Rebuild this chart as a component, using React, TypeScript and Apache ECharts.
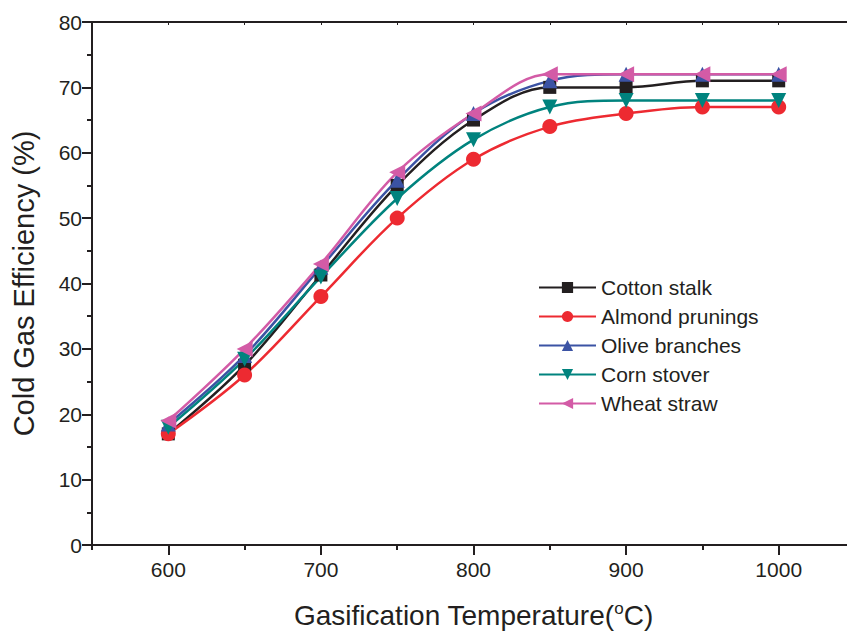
import React, { useEffect, useRef } from "react";
import * as echarts from "echarts";

const temperatures = [600, 650, 700, 750, 800, 850, 900, 950, 1000];
const cottonStalk = [17, 27.5, 41.3, 55, 65, 70, 70, 71, 71];
const almondPrunings = [17, 26, 38, 50, 59, 64, 66, 67, 67];
const oliveBranches = [18.5, 29, 42.5, 55.8, 66, 71, 72, 72, 72];
const cornStover = [18, 28.4, 41, 53, 62, 67, 68, 68, 68];
const wheatStraw = [19, 30, 43, 57, 66, 72, 72, 72, 72];

const xMajorTicks = [600, 700, 800, 900, 1000];
const xMinorTicks = [550, 650, 750, 850, 950, 1050];
const xTopTicks = [600, 650, 700, 750, 800, 850, 900, 950, 1000];

const seriesNames = ["Cotton stalk", "Almond prunings", "Olive branches", "Corn stover", "Wheat straw"];

const FONT = "Liberation Sans, Arial, sans-serif";
const AXIS_COLOR = "#231f20";

export default function App() {
  const ref = useRef<HTMLDivElement>(null);

  useEffect(() => {
    if (!ref.current) return;
    const chart = echarts.init(ref.current, null, { renderer: "svg" });

    const mk = (name: string, values: number[], color: string, symbol: string, size: number, rotate: number) => ({
      name,
      type: "line",
      xAxisIndex: 0,
      yAxisIndex: 0,
      data: temperatures.map((t, i) => [t, values[i]]),
      smooth: 0.35,
      symbol,
      symbolSize: size,
      symbolRotate: rotate,
      lineStyle: { color, width: 2.5 },
      itemStyle: { color, borderWidth: 0 },
      z: 3,
    });

    const axisLine = { show: true, lineStyle: { color: AXIS_COLOR, width: 2 } };

    chart.setOption({
      animation: false,
      backgroundColor: "#ffffff",
      textStyle: { fontFamily: FONT },
      grid: { left: 92, top: 22, right: -8, bottom: 87, containLabel: false, outerBoundsMode: "none" },
      legend: {
        data: seriesNames,
        orient: "vertical",
        left: 533,
        top: 272,
        itemWidth: 57,
        itemHeight: 14,
        itemGap: 8,
        textStyle: { fontSize: 21, color: AXIS_COLOR, fontFamily: FONT },
      },
      xAxis: [
        {
          type: "value",
          min: 550,
          max: 1050,
          interval: 50,
          position: "bottom",
          axisLine,
          axisTick: { show: true, length: 10, inside: false, customValues: xMajorTicks, lineStyle: { color: AXIS_COLOR, width: 2 } },
          axisLabel: {
            show: true,
            customValues: xMajorTicks,
            fontSize: 21,
            color: AXIS_COLOR,
            margin: 14,
            fontFamily: FONT,
            formatter: (v: number) => String(v),
          },
          splitLine: { show: false },
          name: "Gasification Temperature({sup|o}C)",
          nameLocation: "middle",
          nameGap: 55,
          nameTextStyle: {
            fontSize: 28,
            color: AXIS_COLOR,
            fontFamily: FONT,
            lineHeight: 30,
            rich: {
              sup: { fontSize: 17, verticalAlign: "top", lineHeight: 17, color: AXIS_COLOR, fontFamily: FONT, padding: [0, 0, 10, 0] },
            },
          },
        },
        {
          type: "value",
          min: 550,
          max: 1050,
          interval: 50,
          position: "bottom",
          axisLine: { show: false },
          axisTick: { show: true, length: 5, inside: false, customValues: xMinorTicks, lineStyle: { color: AXIS_COLOR, width: 2 } },
          axisLabel: { show: false },
          splitLine: { show: false },
        },
        {
          type: "value",
          min: 550,
          max: 1050,
          interval: 50,
          position: "top",
          axisLine,
          axisTick: { show: true, length: 3, inside: true, customValues: xTopTicks, lineStyle: { color: AXIS_COLOR, width: 1 } },
          axisLabel: { show: false },
          splitLine: { show: false },
        },
      ],
      yAxis: [
        {
          type: "value",
          min: 0,
          max: 80,
          interval: 10,
          position: "left",
          axisLine,
          axisTick: { show: true, length: 10, inside: false, lineStyle: { color: AXIS_COLOR, width: 2 } },
          minorTick: { show: true, splitNumber: 2, length: 5, lineStyle: { color: AXIS_COLOR, width: 2 } },
          axisLabel: { fontSize: 21, color: AXIS_COLOR, margin: 10, fontFamily: FONT },
          splitLine: { show: false },
          minorSplitLine: { show: false },
          name: "Cold Gas Efficiency (%)",
          nameLocation: "middle",
          nameGap: 54,
          nameTextStyle: { fontSize: 29, color: AXIS_COLOR, fontFamily: FONT },
        },
      ],
      series: [
        mk("Cotton stalk", cottonStalk, "#231f20", "rect", 13, 0),
        mk("Almond prunings", almondPrunings, "#ed2a31", "circle", 15, 0),
        mk("Olive branches", oliveBranches, "#3b53a4", "triangle", 15, 0),
        mk("Corn stover", cornStover, "#00837e", "triangle", 15, 180),
        mk("Wheat straw", wheatStraw, "#d35ba6", "triangle", 16, 90),
      ],
    });

    return () => chart.dispose();
  }, []);

  return (
    <div
      ref={ref}
      style={{ position: "fixed", left: 0, top: 0, width: 847, height: 632, background: "#fff" }}
    />
  );
}
